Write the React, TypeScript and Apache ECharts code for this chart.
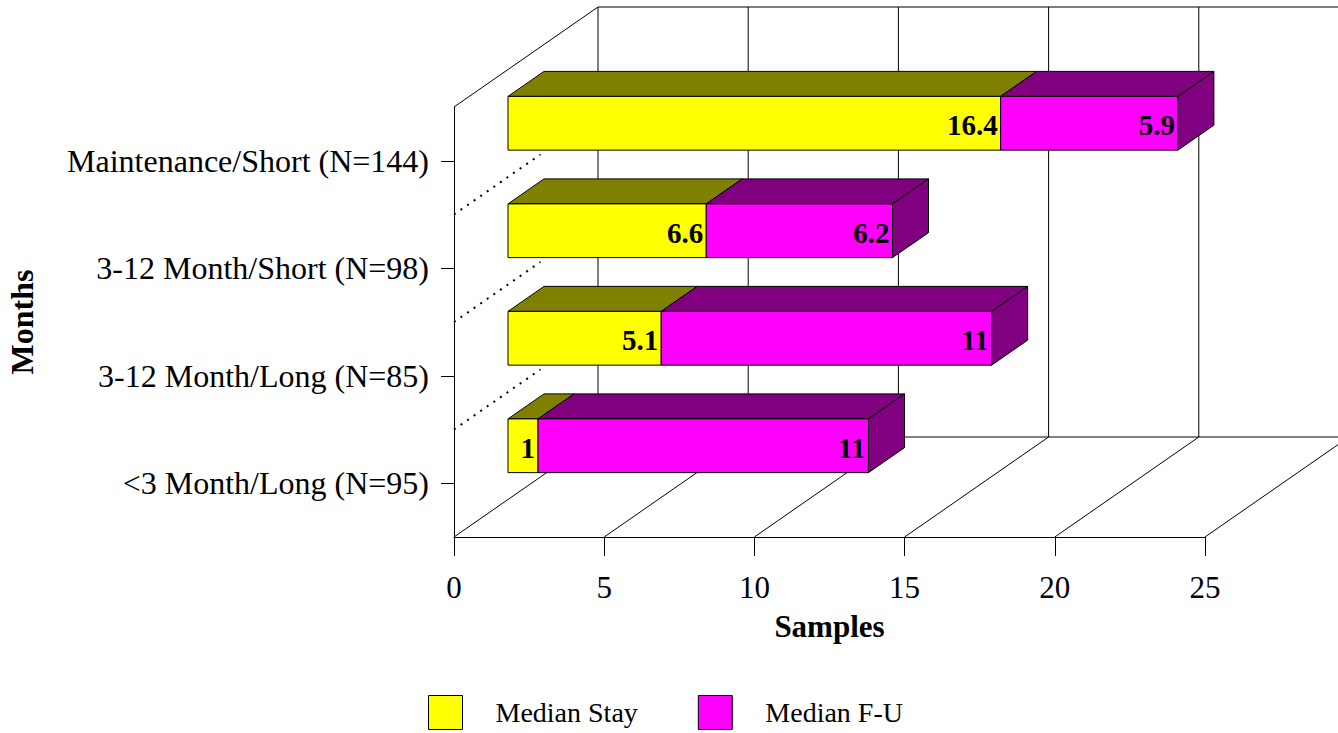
import React, { useEffect, useRef } from "react";
import * as echarts from "echarts";

const categories = [
  "<3 Month/Long (N=95)",
  "3-12 Month/Long (N=85)",
  "3-12 Month/Short (N=98)",
  "Maintenance/Short (N=144)",
];
const medianStay = [1, 5.1, 6.6, 16.4];
const medianFU = [11, 11, 6.2, 5.9];
const xTicks = [0, 5, 10, 15, 20, 25];
const seriesNames = ["Median Stay", "Median F-U"];

const FONT = "'Liberation Serif', 'Times New Roman', serif";
const DX = 144;
const DY = -100;
const FRONT = 0.375;
const DEPTH = 0.25;

const faceColors = ["#FFFF00", "#FF00FF"];
const shadeColors = ["#808000", "#800080"];

function makeBarRender(seriesIdx: number) {
  const isLast = seriesIdx === 1;
  return (params: any, api: any) => {
    const s = api.value(0);
    const e = api.value(1);
    const c = api.value(2);
    const a = api.coord([s, c]);
    const b = api.coord([e, c]);
    const band = api.size([0, 1])[1];
    const h = band * 0.5;
    const fx = DX * FRONT;
    const fy = DY * FRONT;
    const bx = DX * DEPTH;
    const by = DY * DEPTH;
    const xl = a[0] + fx;
    const xr = b[0] + fx;
    const yc = a[1] + fy;
    const yt = yc - h / 2;
    const yb = yc + h / 2;
    const stroke = { stroke: "#000", lineWidth: 1 };
    const children: any[] = [
      {
        type: "polygon",
        shape: { points: [[xl, yt], [xr, yt], [xr + bx, yt + by], [xl + bx, yt + by]] },
        style: { fill: shadeColors[seriesIdx], ...stroke },
      },
      {
        type: "rect",
        shape: { x: xl, y: yt, width: xr - xl, height: h },
        style: { fill: faceColors[seriesIdx], ...stroke },
      },
    ];
    if (isLast) {
      children.push({
        type: "polygon",
        shape: { points: [[xr, yt], [xr + bx, yt + by], [xr + bx, yb + by], [xr, yb]] },
        style: { fill: shadeColors[seriesIdx], ...stroke },
      });
    }
    const val = seriesIdx === 0 ? medianStay[params.dataIndex] : medianFU[params.dataIndex];
    children.push({
      type: "text",
      style: {
        x: xr - 3,
        y: yc + 2,
        text: String(val),
        align: "right",
        verticalAlign: "middle",
        fill: "#000",
        font: `bold 29px ${FONT}`,
      },
    });
    return { type: "group", children };
  };
}

function frameRender(params: any, api: any) {
  const cs = params.coordSys;
  const x0 = cs.x;
  const top = cs.y;
  const bottom = cs.y + cs.height;
  const xEnd = cs.x + cs.width;
  const band = cs.height / categories.length;
  const line = (x1: number, y1: number, x2: number, y2: number, extra: any = {}) => ({
    type: "line",
    shape: { x1, y1, x2, y2 },
    style: { stroke: "#000", lineWidth: 1, ...extra },
  });
  const children: any[] = [];
  children.push(line(x0, top, x0 + DX, top + DY));
  children.push(line(x0 + DX, top + DY, xEnd + DX, top + DY));
  children.push(line(x0 + DX, bottom + DY, xEnd + DX, bottom + DY));
  xTicks.forEach((v) => {
    const px = api.coord([v, 0])[0];
    children.push(line(px + DX, top + DY, px + DX, bottom + DY));
    children.push(line(px, bottom, px + DX, bottom + DY));
  });
  for (let k = 1; k < categories.length; k++) {
    const y = top + k * band;
    children.push(
      line(x0, y, x0 + DX * 0.6, y + DY * 0.6, { lineWidth: 2, lineDash: [2, 6] })
    );
  }
  return { type: "group", children };
}

export default function App() {
  const ref = useRef<HTMLDivElement>(null);
  useEffect(() => {
    if (!ref.current) return;
    const chart = echarts.init(ref.current, undefined, { renderer: "svg" });
    const stayData = medianStay.map((v, i) => [0, v, i]);
    const fuData = medianFU.map((v, i) => [medianStay[i], medianStay[i] + v, i]);
    chart.setOption({
      animation: false,
      backgroundColor: "#fff",
      grid: { left: 454, top: 107, width: 751, height: 430, outerBoundsMode: "none" },
      legend: {
        left: 428,
        top: 695,
        padding: 0,
        itemWidth: 34,
        itemHeight: 34,
        itemGap: 60,
        icon: "rect",
        itemStyle: { borderColor: "#000", borderWidth: 1 },
        textStyle: { fontSize: 28, fontFamily: FONT, color: "#000", padding: [0, 0, 0, 28] },
        data: seriesNames,
      },
      xAxis: {
        type: "value",
        min: 0,
        max: 25,
        interval: 5,
        name: "Samples",
        nameLocation: "middle",
        nameGap: 89,
        nameTextStyle: {
          fontSize: 31,
          fontWeight: "bold",
          fontFamily: FONT,
          color: "#000",
          verticalAlign: "middle",
        },
        axisLine: { show: true, lineStyle: { color: "#000", width: 1 } },
        axisTick: { show: true, length: 19, lineStyle: { color: "#000" } },
        axisLabel: { fontSize: 31, fontFamily: FONT, color: "#000", margin: 35 },
        splitLine: { show: false },
      },
      yAxis: {
        type: "category",
        data: categories,
        name: "Months",
        nameLocation: "middle",
        nameRotate: 90,
        nameGap: 432,
        nameTextStyle: {
          fontSize: 32,
          fontWeight: "bold",
          fontFamily: FONT,
          color: "#000",
          verticalAlign: "middle",
          align: "center",
        },
        axisLine: { show: true, lineStyle: { color: "#000", width: 1 } },
        axisTick: { show: true, length: 13, alignWithLabel: true, lineStyle: { color: "#000" } },
        axisLabel: {
          fontSize: 32,
          fontFamily: FONT,
          color: "#000",
          margin: 25,
          padding: [6, 0, 0, 0],
        },
        splitLine: { show: false },
      },
      series: [
        {
          type: "custom",
          name: "frame",
          z: 1,
          silent: true,
          renderItem: frameRender,
          encode: { x: 0, y: 1 },
          data: [[0, 0]],
        },
        {
          type: "custom",
          name: seriesNames[0],
          z: 3,
          itemStyle: { color: faceColors[0] },
          renderItem: makeBarRender(0),
          encode: { x: [0, 1], y: 2 },
          data: stayData,
        },
        {
          type: "custom",
          name: seriesNames[1],
          z: 4,
          itemStyle: { color: faceColors[1] },
          renderItem: makeBarRender(1),
          encode: { x: [0, 1], y: 2 },
          data: fuData,
        },
      ],
    });
    return () => chart.dispose();
  }, []);
  return (
    <div
      ref={ref}
      style={{ position: "absolute", left: 0, top: 0, width: 1338, height: 733 }}
    />
  );
}
